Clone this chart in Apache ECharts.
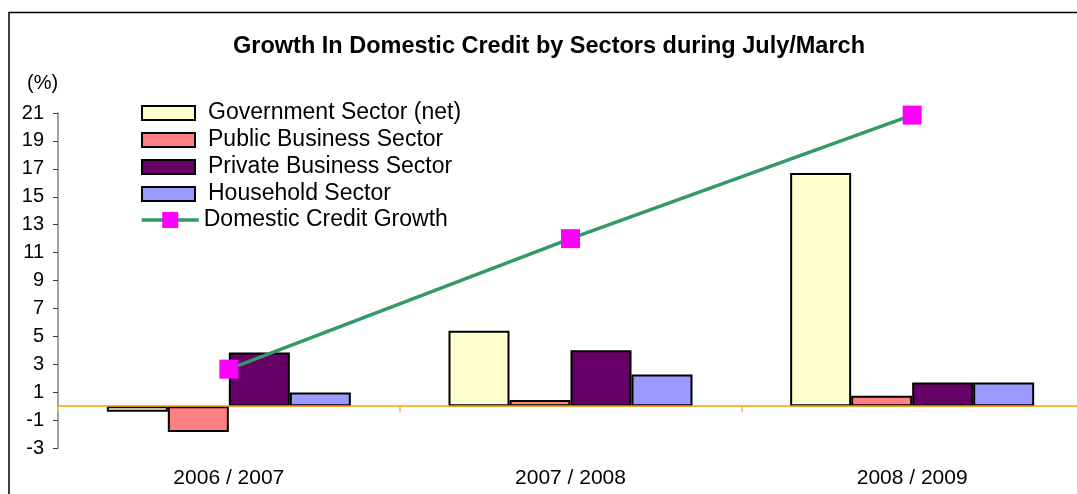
<!DOCTYPE html>
<html>
<head>
<meta charset="utf-8">
<script src="https://cdn.jsdelivr.net/npm/echarts@6/dist/echarts.min.js"></script>
<style>
  html, body { margin: 0; padding: 0; background: #fff; }
  #chart { width: 1077px; height: 494px; }
</style>
</head>
<body>
<div id="chart"></div>
<script>
// Fiscal periods (July/March)
const categories = ['2006 / 2007', '2007 / 2008', '2008 / 2009'];

// Growth by sector, %
const governmentSector = [-0.4, 5.4, 16.7];
const publicBusiness   = [-1.85, 0.43, 0.74];
const privateBusiness  = [3.85, 4.0, 1.7];
const householdSector  = [0.98, 2.27, 1.7];
const domesticCredit   = [2.65, 12.0, 20.85];

const seriesNames = [
  'Government Sector (net)',
  'Public Business Sector',
  'Private Business Sector',
  'Household Sector',
  'Domestic Credit Growth'
];

const FONT = '"Liberation Sans", Arial, sans-serif';
const LINE_GREEN = '#339966';

const chart = echarts.init(document.getElementById('chart'), null, { renderer: 'canvas' });

function barSeries(name, data, color) {
  return {
    name: name,
    type: 'bar',
    xAxisIndex: 0,
    data: data,
    barWidth: 61,
    barGap: '0%',
    itemStyle: { color: color, borderColor: '#000', borderWidth: 2 }
  };
}

chart.setOption({
  backgroundColor: '#fff',
  animation: false,
  textStyle: { fontFamily: FONT },
  title: {
    text: 'Growth In Domestic Credit by Sectors during July/March',
    left: 544,
    textAlign: 'center',
    top: 30,
    textStyle: { fontFamily: FONT, fontSize: 23.5, fontWeight: 'bold', color: '#000' }
  },
  graphic: [
    {
      type: 'rect',
      shape: { x: 9, y: 12.5, width: 1120, height: 520 },
      style: { fill: 'none', stroke: '#000', lineWidth: 1.5 },
      silent: true
    },
    {
      type: 'text',
      left: 27,
      top: 73,
      style: { text: '(%)', font: '20px ' + FONT, fill: '#000' }
    }
  ],
  legend: [
    {
      orient: 'vertical',
      left: 141,
      top: 101,
      padding: 0,
      itemGap: 3,
      itemWidth: 53,
      itemHeight: 14,
      icon: 'rect',
      data: seriesNames.slice(0, 4),
      textStyle: { fontFamily: FONT, fontSize: 23, color: '#000', lineHeight: 24, padding: [0, 0, 0, 8] }
    },
    {
      orient: 'vertical',
      left: 140,
      top: 208,
      padding: 0,
      itemWidth: 57,
      itemHeight: 20,
      data: [seriesNames[4]],
      lineStyle: { color: LINE_GREEN, width: 3.5 },
      textStyle: { fontFamily: FONT, fontSize: 23, color: '#000', lineHeight: 24 }
    }
  ],
  grid: {
    left: 58, top: 113, width: 1025, height: 335,
    containLabel: false,
    outerBoundsMode: 'none'
  },
  xAxis: [
    {
      // zero line with category dividers
      type: 'category',
      data: categories,
      z: 3,
      axisLine: { onZero: true, lineStyle: { color: '#FF9900', width: 1.5 } },
      axisTick: { show: true, length: 6, lineStyle: { color: '#FFB84D', width: 1.5 } },
      axisLabel: { show: false },
      splitLine: { show: false }
    },
    {
      // category labels along the bottom
      type: 'category',
      data: categories,
      position: 'bottom',
      axisLine: { show: false, onZero: false },
      axisTick: { show: false },
      axisLabel: { margin: 20, fontFamily: FONT, fontSize: 21, color: '#000' },
      splitLine: { show: false }
    }
  ],
  yAxis: {
    type: 'value',
    min: -3,
    max: 21,
    interval: 2,
    axisLine: { show: true, onZero: false, lineStyle: { color: '#808080', width: 1.5 } },
    axisTick: { show: true, length: 5, lineStyle: { color: '#404040', width: 1 } },
    axisLabel: { margin: 14, fontFamily: FONT, fontSize: 20, color: '#000' },
    splitLine: { show: false }
  },
  series: [
    barSeries(seriesNames[0], governmentSector, '#FFFFCC'),
    barSeries(seriesNames[1], publicBusiness, '#FF8080'),
    barSeries(seriesNames[2], privateBusiness, '#660066'),
    barSeries(seriesNames[3], householdSector, '#9999FF'),
    {
      name: seriesNames[4],
      type: 'line',
      xAxisIndex: 0,
      data: domesticCredit,
      symbol: 'rect',
      symbolSize: 19,
      itemStyle: { color: '#FF00FF' },
      lineStyle: { color: LINE_GREEN, width: 3.5 },
      z: 5
    }
  ]
});
</script>
</body>
</html>
